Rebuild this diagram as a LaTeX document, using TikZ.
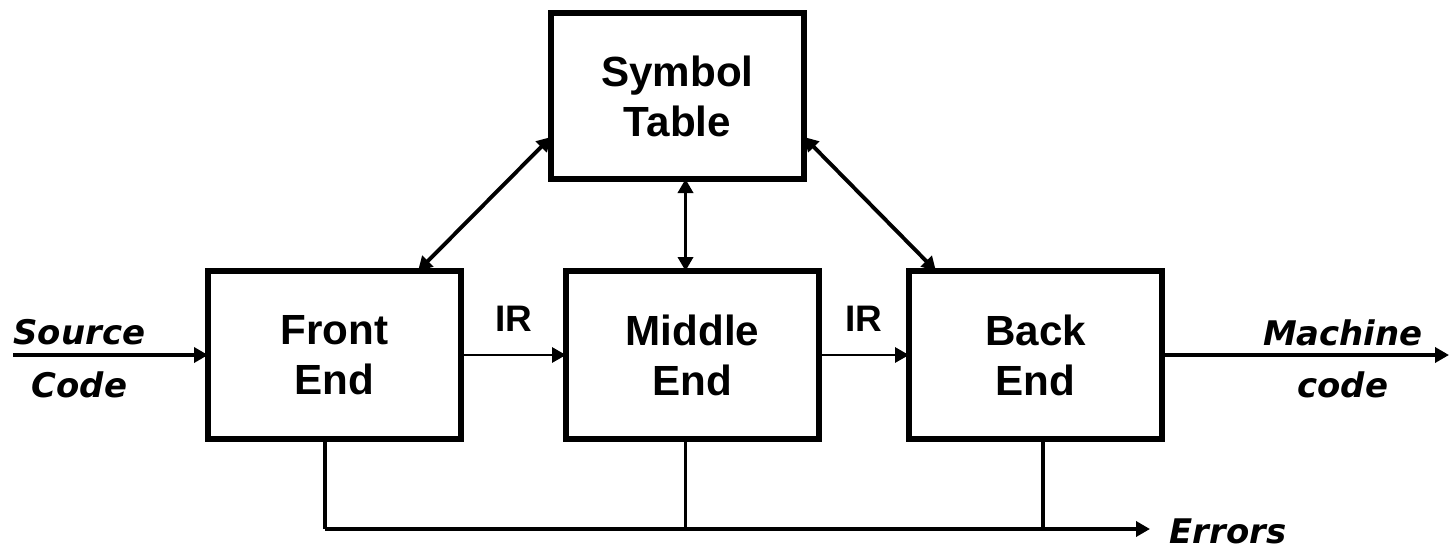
\documentclass[tikz,border=0pt]{standalone}
\usepackage{fontspec}
\setmainfont{Liberation Sans}
\newfontfamily\iofont{DejaVu Sans}
\usepackage{tikz}
\usetikzlibrary{arrows.meta,positioning}
\tikzset{
  block/.style = {draw, line width=3.3pt, outer sep=0pt, minimum width=50.6mm,
                  minimum height=33.6mm, align=center,
                  font=\bfseries\fontsize{24}{28.5}\selectfont},
  sig/.style   = {-{Triangle[length=2.8mm, width=3mm]}, line width=2.2pt},
  both/.style  = {{Triangle[length=2.8mm, width=3mm]}-{Triangle[length=2.8mm, width=3mm]}, line width=2.2pt},
  ir/.style    = {-{Triangle[length=2.8mm, width=3mm]}, line width=1.7pt},
  wire/.style  = {line width=2pt},
  io/.style    = {font=\iofont\bfseries\itshape\fontsize{19.3}{23}\selectfont, inner sep=0pt},
  lbl/.style   = {font=\bfseries\fontsize{21}{25}\selectfont, inner sep=0pt},
}

\begin{document}
\begin{tikzpicture}
  \useasboundingbox (0,0) rectangle (29.02,10.96);
  % the three compiler stages and the shared table
  \node[block] (front) at (6.69,3.86) {Front\\End};
  \node[block, right=21mm of front] (mid) {Middle\\End};
  \node[block, right=18mm of mid] (back) {Back\\End};
  \node[block, above=18.4mm of mid, xshift=-3mm, minimum height=33.2mm] (sym) {Symbol\\Table};
  % input and output
  \coordinate[left=39mm of front.west] (src);
  \coordinate[right=57.4mm of back.east] (mc);
  \draw[sig] (src) -- (front) node[pos=0.34, above=1.6mm, io] {Source} node[pos=0.34, below=3mm, io] {Code};
  \draw[sig] (back) -- (mc) node[pos=0.63, above=1.4mm, io] {Machine} node[pos=0.63, below=3mm, io] {code};
  \draw[ir] (front) -- (mid) node[midway, above=4.4mm, lbl] {IR};
  \draw[ir] (mid) -- (back) node[midway, above=4.4mm, lbl] {IR};
  % symbol table access
  \draw[both] ([xshift=16.7mm]front.north) -- ([yshift=-8.2mm]sym.west);
  \draw[both] ([yshift=-8.2mm]sym.east) -- ([xshift=-19.9mm]back.north);
  \draw[both] ([xshift=1.6mm]sym.south) -- ([xshift=1.6mm]sym.south |- mid.north);
  % error bus
  \coordinate[below=18mm of front.south, xshift=-1.9mm] (busL);
  \coordinate[right=165mm of busL] (err);
  \draw[wire] ([xshift=-1.9mm]front.south) -- (busL);
  \draw[wire] ([xshift=-1.4mm]mid.south) -- ([xshift=-1.4mm]mid.south |- busL);
  \draw[wire] ([xshift=1.5mm]back.south) -- ([xshift=1.5mm]back.south |- busL);
  \draw[sig, line width=2pt] (busL) -- (err)
    node[anchor=base west, xshift=3.6mm, yshift=-2.8mm, io] {Errors};
\end{tikzpicture}
\end{document}
